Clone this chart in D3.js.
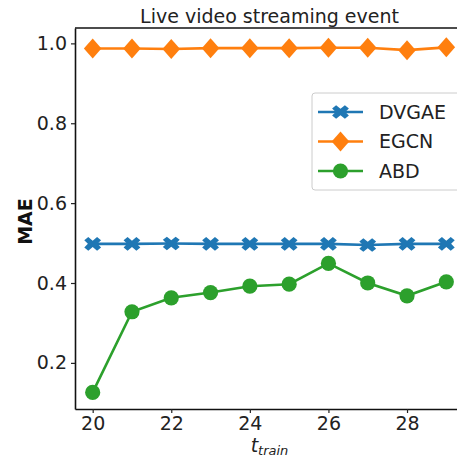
<!DOCTYPE html>
<html>
<head>
<meta charset="utf-8">
<script src="https://cdn.jsdelivr.net/npm/d3@7"></script>
<style>
  html, body { margin: 0; padding: 0; background: #fff; }
  svg { display: block; font-family: "DejaVu Sans", sans-serif; }
</style>
</head>
<body>
<div id="chart"></div>
<script>
// Training window lengths on the x axis
const tTrain = [20, 21, 22, 23, 24, 25, 26, 27, 28, 29];

// MAE per model
const dvgae = [0.498, 0.498, 0.499, 0.498, 0.498, 0.498, 0.498, 0.495, 0.498, 0.498];
const egcn  = [0.987, 0.987, 0.986, 0.988, 0.988, 0.988, 0.989, 0.989, 0.983, 0.990];
const abd   = [0.126, 0.328, 0.363, 0.376, 0.392, 0.397, 0.449, 0.400, 0.368, 0.403];

const xTicks = [20, 22, 24, 26, 28];
const yTicks = [0.2, 0.4, 0.6, 0.8, 1.0];

const seriesNames = ["DVGAE", "EGCN", "ABD"];
const seriesData = [dvgae, egcn, abd];
const colors = ["#1f77b4", "#ff7f0e", "#2ca02c"];
const markers = ["x", "diamond", "circle"];

const W = 457, H = 459;
const margin = { left: 75, top: 28, right: -7, bottom: 50 };
const x0 = margin.left, x1 = W - margin.right;
const y0 = H - margin.bottom, y1 = margin.top;

const x = d3.scaleLinear().domain([19.55, 29.45]).range([x0, x1]);
const y = d3.scaleLinear().domain([0.0845, 1.0385]).range([y0, y1]);

const svg = d3.select("#chart").append("svg")
  .attr("width", W).attr("height", H);

const fs = 19;

// Axes
const xAxis = svg.append("g")
  .attr("transform", `translate(0,${y0})`)
  .call(d3.axisBottom(x).tickValues(xTicks).tickFormat(d3.format("d"))
    .tickSize(4).tickSizeOuter(0).tickPadding(4));
const yAxis = svg.append("g")
  .attr("transform", `translate(${x0},0)`)
  .call(d3.axisLeft(y).tickValues(yTicks).tickFormat(d3.format(".1f"))
    .tickSize(4).tickSizeOuter(0).tickPadding(4));
[xAxis, yAxis].forEach(g => {
  g.selectAll("text").attr("font-size", fs).attr("font-family", "DejaVu Sans").attr("fill", "#222");
  g.selectAll("line").attr("stroke", "#222").attr("stroke-width", 1.2);
  g.select(".domain").attr("stroke", "#111").attr("stroke-width", 1.6);
});
// Top and right spines
svg.append("line")
  .attr("x1", x0).attr("x2", x1).attr("y1", y1).attr("y2", y1)
  .attr("stroke", "#111").attr("stroke-width", 1.6);
svg.append("line")
  .attr("x1", x1).attr("x2", x1).attr("y1", y1).attr("y2", y0)
  .attr("stroke", "#111").attr("stroke-width", 1.6);

// Marker path generators
function markerPath(type, s) {
  if (type === "circle") {
    return d3.symbol(d3.symbolCircle, Math.PI * s * s)();
  }
  if (type === "diamond") {
    return `M0,${-s * 1.25}L${s * 1.1},0L0,${s * 1.25}L${-s * 1.1},0Z`;
  }
  // filled, slightly wide X
  const ax = s * 1.05, ay = s * 0.85, w = s * 0.5;
  const pts = [
    [-ax + w, -ay], [0, -ay + w * 0.9], [ax - w, -ay], [ax, -ay + w * 0.8], [ax - w * 0.9, 0], [ax, ay - w * 0.8],
    [ax - w, ay], [0, ay - w * 0.9], [-ax + w, ay], [-ax, ay - w * 0.8], [-ax + w * 0.9, 0], [-ax, -ay + w * 0.8]
  ];
  return "M" + pts.map(p => p.join(",")).join("L") + "Z";
}

const line = d3.line().x((d, i) => x(tTrain[i])).y(d => y(d));

seriesData.forEach((vals, k) => {
  const g = svg.append("g");
  g.append("path").datum(vals)
    .attr("d", line).attr("fill", "none")
    .attr("stroke", colors[k]).attr("stroke-width", 2.6);
  g.selectAll("path.m").data(vals).enter().append("path")
    .attr("class", "m")
    .attr("transform", (d, i) => `translate(${x(tTrain[i])},${y(d)})`)
    .attr("d", markerPath(markers[k], markers[k] === "circle" ? 7.6 : 8))
    .attr("fill", colors[k]);
});

// Title
svg.append("text")
  .attr("x", (x0 + x1) / 2).attr("y", 23)
  .attr("text-anchor", "middle").attr("font-size", fs).attr("fill", "#222")
  .text("Live video streaming event");

// Axis labels
svg.append("text")
  .attr("transform", `translate(32,${(y0 + y1) / 2 + 3}) rotate(-90)`)
  .attr("text-anchor", "middle").attr("font-size", fs).attr("font-weight", "bold").attr("fill", "#111")
  .text("MAE");

const xl = svg.append("text")
  .attr("x", (x0 + x1) / 2).attr("y", 452)
  .attr("text-anchor", "middle").attr("fill", "#222").attr("font-style", "italic");
xl.append("tspan").attr("font-size", fs).text("t");
xl.append("tspan").attr("font-size", 13).attr("dy", 3).text("train");

// Legend
const lg = svg.append("g").attr("transform", "translate(312,93)");
lg.append("rect").attr("x", 0).attr("y", 0).attr("width", 160).attr("height", 97)
  .attr("rx", 3).attr("fill", "#fff").attr("fill-opacity", 0.8)
  .attr("stroke", "#ccc").attr("stroke-width", 1);
seriesNames.forEach((name, k) => {
  const cy = 19 + k * 29.5;
  lg.append("line").attr("x1", 6).attr("x2", 51).attr("y1", cy).attr("y2", cy)
    .attr("stroke", colors[k]).attr("stroke-width", 2.6);
  lg.append("path").attr("transform", `translate(28.5,${cy})`)
    .attr("d", markerPath(markers[k], markers[k] === "circle" ? 7.6 : 8)).attr("fill", colors[k]);
  lg.append("text").attr("x", 67).attr("y", cy).attr("dy", "0.36em")
    .attr("font-size", fs).attr("fill", "#222").text(name);
});
</script>
</body>
</html>
